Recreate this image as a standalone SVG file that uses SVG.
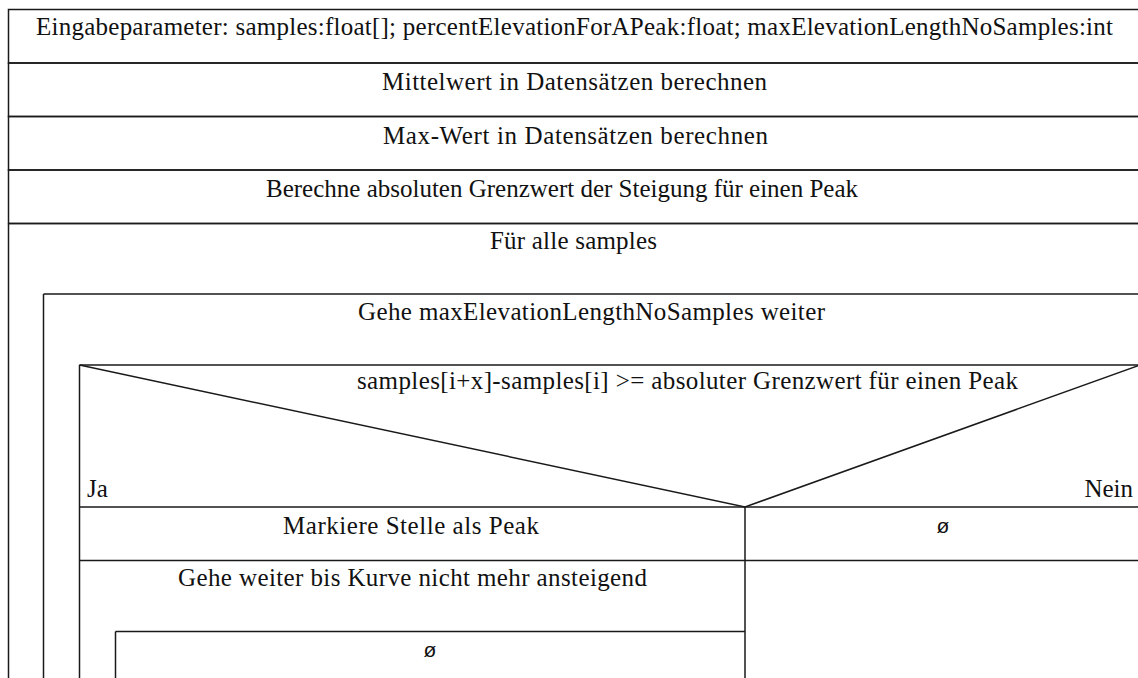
<svg xmlns="http://www.w3.org/2000/svg" width="1138" height="678" viewBox="0 0 1138 678">
<style>
.b{fill:none;stroke:#1a1a1a;stroke-width:1.5}
.t{font-family:"Liberation Serif","Times New Roman",serif;font-size:25px;fill:#111;text-anchor:middle}
.l{text-anchor:start}
.r{text-anchor:end}
.e{font-family:"Liberation Sans",Arial,sans-serif;font-size:21px;fill:#111;text-anchor:middle}
</style>
<rect width="1138" height="678" fill="#fff"/>
<g id="input">
<rect class="b" x="8.5" y="9.5" width="1140" height="53.5"/>
<text class="t" x="574.5" y="35" textLength="1077" lengthAdjust="spacing">Eingabeparameter: samples:float[]; percentElevationForAPeak:float; maxElevationLengthNoSamples:int</text>
</g>
<g id="mean">
<rect class="b" x="8.5" y="63" width="1140" height="53.5"/>
<text class="t" x="574.5" y="90" textLength="385" lengthAdjust="spacing">Mittelwert in Datensätzen berechnen</text>
</g>
<g id="max">
<rect class="b" x="8.5" y="116.5" width="1140" height="53.5"/>
<text class="t" x="575.5" y="143.5" textLength="385" lengthAdjust="spacing">Max-Wert in Datensätzen berechnen</text>
</g>
<g id="threshold">
<rect class="b" x="8.5" y="170" width="1140" height="53.5"/>
<text class="t" x="562" y="196.5" textLength="592" lengthAdjust="spacing">Berechne absoluten Grenzwert der Steigung für einen Peak</text>
</g>
<g id="loop-samples">
<path class="b" d="M8.5 223.5 H1150 M8.5 223.5 V690"/>
<text class="t" x="573.5" y="248.5" textLength="167" lengthAdjust="spacing">Für alle samples</text>
</g>
<g id="loop-elevation">
<path class="b" d="M43.5 294 H1150 M43.5 294 V690"/>
<text class="t" x="591.5" y="319.5" textLength="467" lengthAdjust="spacing">Gehe maxElevationLengthNoSamples weiter</text>
</g>
<g id="if-peak">
<path class="b" d="M79.5 365 H1150 M79.5 365 V690 M79.5 507 H1150"/>
<path class="b" d="M79.5 365 L745 507 L1140 365"/>
<text class="t" x="687.5" y="388.5" textLength="661" lengthAdjust="spacing">samples[i+x]-samples[i] &gt;= absoluter Grenzwert für einen Peak</text>
<text class="t l" x="87" y="496.5">Ja</text>
<text class="t r" x="1133" y="496.5">Nein</text>
</g>
<g id="mark-peak">
<path class="b" d="M79.5 560.5 H745 M745 507 V690"/>
<text class="t" x="411" y="533.5" textLength="256" lengthAdjust="spacing">Markiere Stelle als Peak</text>
</g>
<g id="else-empty">
<path class="b" d="M745 560.5 H1150"/>
<text class="e" x="943" y="533">ø</text>
</g>
<g id="loop-rising">
<path class="b" d="M115.5 631.5 H745 M115.5 631.5 V690"/>
<text class="t" x="412.5" y="586" textLength="469" lengthAdjust="spacing">Gehe weiter bis Kurve nicht mehr ansteigend</text>
</g>
<g id="loop-body-empty">
<text class="e" x="430" y="657">ø</text>
</g>
<g id="connectors"></g>
</svg>
